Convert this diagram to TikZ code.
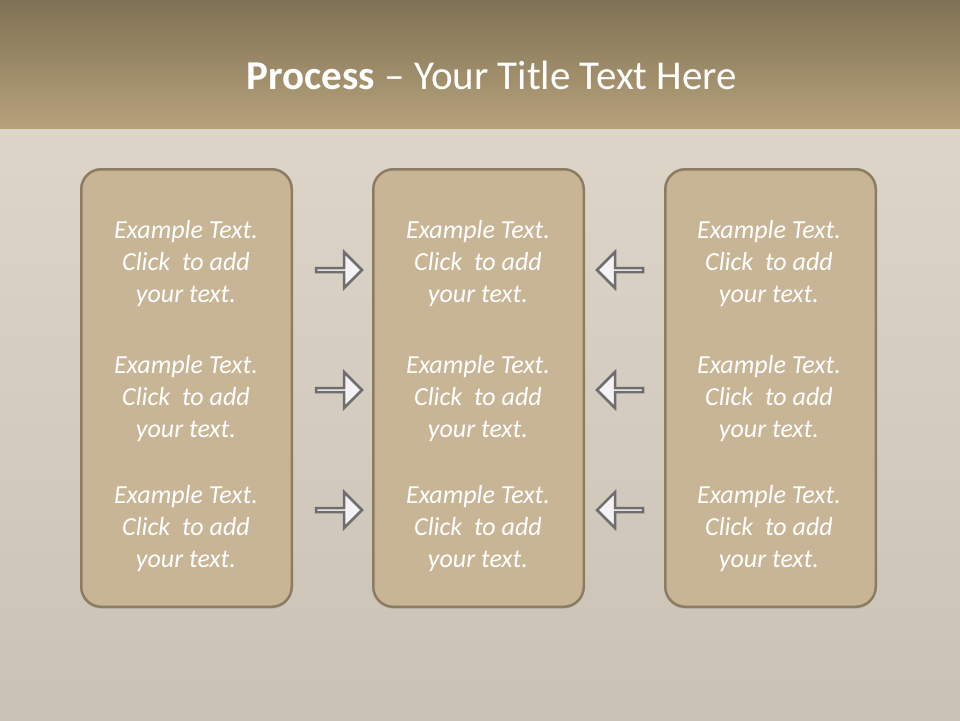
\documentclass[tikz,border=0pt]{standalone}
\usepackage{fontspec}
\setmainfont{Carlito}
\usetikzlibrary{positioning, shapes.arrows, shadows}
\definecolor{bandtop}{HTML}{7F7254}
\definecolor{bandbot}{HTML}{B6A17B}
\definecolor{stonetop}{HTML}{DCD5C8}
\definecolor{stonebot}{HTML}{CAC3B5}
\definecolor{boxfill}{HTML}{C8B596}
\definecolor{boxline}{HTML}{8B7C62}
\definecolor{arrowline}{HTML}{6E6E6E}
\definecolor{arrowfill}{HTML}{F3F3F5}

\begin{document}
\begin{tikzpicture}[
  x=1pt, y=-1pt,
  panel/.style={draw=boxline, line width=2.5pt, fill=boxfill, rounded corners=20pt,
    minimum width=210.5pt, minimum height=437.5pt, inner sep=0pt,
    drop shadow={opacity=0.25, shadow xshift=0pt, shadow yshift=-2pt}},
  blurb/.style={text=white, font=\itshape\fontsize{26}{32}\selectfont, align=center},
  fwd/.style={single arrow, draw=arrowline, fill=arrowfill, line width=2.5pt,
    minimum width=36pt, minimum height=46pt, single arrow head extend=10pt, inner sep=0pt},
  back/.style={fwd, shape border rotate=180}
]
\useasboundingbox (0,0) rectangle (960,720);

% background
\shade[top color=stonetop, bottom color=stonebot] (0,128) rectangle (960,720);
\shade[top color=bandtop, bottom color=bandbot] (0,0) rectangle (960,128);

\node[text=white, font=\fontsize{41}{48}\selectfont] (title) at (492,75)
  {\textbf{Process} -- Your Title Text Here};

% panels
\node[panel] (left) at (186.5,388) {};
\node[panel, right=79pt of left] (mid) {};
\node[panel, right=79pt of mid] (right) {};

\node[blurb] (L1) at (186,264) {Example Text.\\Click~ to add\\your text.};
\node[blurb] (L2) at (186,399) {Example Text.\\Click~ to add\\your text.};
\node[blurb] (L3) at (186,529) {Example Text.\\Click~ to add\\your text.};
\node[blurb] (M1) at (478,264) {Example Text.\\Click~ to add\\your text.};
\node[blurb] (M2) at (478,399) {Example Text.\\Click~ to add\\your text.};
\node[blurb] (M3) at (478,529) {Example Text.\\Click~ to add\\your text.};
\node[blurb] (R1) at (769,264) {Example Text.\\Click~ to add\\your text.};
\node[blurb] (R2) at (769,399) {Example Text.\\Click~ to add\\your text.};
\node[blurb] (R3) at (769,529) {Example Text.\\Click~ to add\\your text.};

% arrows
\node[fwd] (a1) at (338,270) {};
\node[fwd] (a2) at (338,390) {};
\node[fwd] (a3) at (338,510) {};
\node[back] (b1) at (621,270) {};
\node[back] (b2) at (621,390) {};
\node[back] (b3) at (621,510) {};
\end{tikzpicture}
\end{document}
